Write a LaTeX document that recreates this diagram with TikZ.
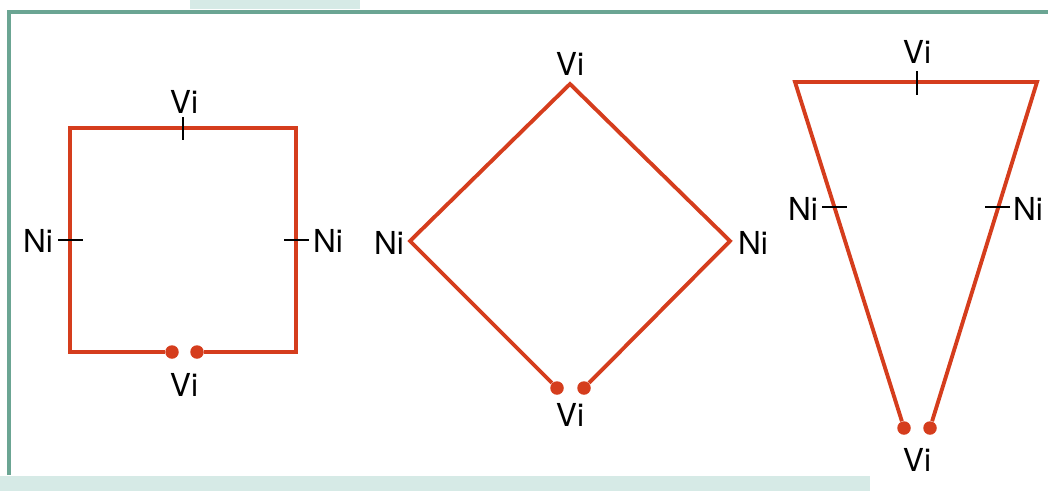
\documentclass[tikz,border=0pt]{standalone}
\usepackage{fontspec}
\setmainfont{TeX Gyre Heros}
\usetikzlibrary{positioning, calc}
\definecolor{bondred}{HTML}{D53D1D}
\definecolor{frameteal}{HTML}{6BA593}
\definecolor{bandteal}{HTML}{D6EAE6}

\begin{document}
\begin{tikzpicture}[x=0.02cm, y=-0.02cm,
  bond/.style={draw=bondred, line width=2.2pt, line join=miter},
  ticked/.style={draw=black, line width=1.4pt},
  lab/.style={font=\fontsize{18}{21}\selectfont, inner sep=0pt},
  atom/.style={circle, fill=bondred, minimum size=0.27cm, inner sep=0pt}]

    \useasboundingbox (0,0) rectangle (1048,491);

    % Cadre de la page
    \fill[bandteal] (190,0) rectangle (360,9);
    \fill[bandteal] (0,476) rectangle (870,491);
    \draw[frameteal, line width=2.5pt] (9,475) -- (9,12) -- (1048,12);

    % Carre
    \coordinate (sqA) at (70,128);
    \coordinate (sqB) at (296,128);
    \coordinate (sqC) at (296,352);
    \coordinate (sqD) at (70,352);
    \node[atom] (sqL) at (172,352) {};
    \node[atom] (sqR) at (197,352) {};
    \draw[bond] (sqL) -- (sqD) -- (sqA) -- (sqB) -- (sqC) -- (sqR);
    \coordinate (sqTop) at ($(sqA)!0.5!(sqB)$);
    \coordinate (sqLeft) at ($(sqA)!0.5!(sqD)$);
    \coordinate (sqRight) at ($(sqB)!0.5!(sqC)$);
    \draw[ticked] (sqTop) ++(0,-11) -- ++(0,23);
    \draw[ticked] (sqLeft) ++(-12,0) -- ++(25,0);
    \draw[ticked] (sqRight) ++(-12,0) -- ++(25,0);
    \node[lab] (sqViT) at (184,102) {Vi};
    \node[lab] (sqNiL) at (38,241) {Ni};
    \node[lab] (sqNiR) at (328,241) {Ni};
    \node[lab] (sqViB) at (184,385) {Vi};

    % Losange
    \coordinate (dmT) at (570,84);
    \coordinate (dmL) at (410,241);
    \coordinate (dmR) at (730,241);
    \node[atom] (dmDL) at (557,388) {};
    \node[atom] (dmDR) at (584,388) {};
    \draw[bond] (dmDL) -- (dmL) -- (dmT) -- (dmR) -- (dmDR);
    \node[lab] (dmViT) at (570,64) {Vi};
    \node[lab] (dmNiL) at (389,243) {Ni};
    \node[lab] (dmNiR) at (753,243) {Ni};
    \node[lab] (dmViB) at (570,415) {Vi};

    % Triangle
    \coordinate (trA) at (795,82);
    \coordinate (trB) at (1037,82);
    \node[atom] (trDL) at (904,428) {};
    \node[atom] (trDR) at (930,428) {};
    \draw[bond] (trDL) -- (trA) -- (trB) -- (trDR);
    \draw[ticked] (917,71) -- ++(0,24);
    \draw[ticked] (822,207) -- ++(25,0);
    \draw[ticked] (985,207) -- ++(25,0);
    \node[lab] (trViT) at (917,52) {Vi};
    \node[lab] (trNiL) at (803,209) {Ni};
    \node[lab] (trNiR) at (1028,209) {Ni};
    \node[lab] (trViB) at (917,460) {Vi};

\end{tikzpicture}
\end{document}
